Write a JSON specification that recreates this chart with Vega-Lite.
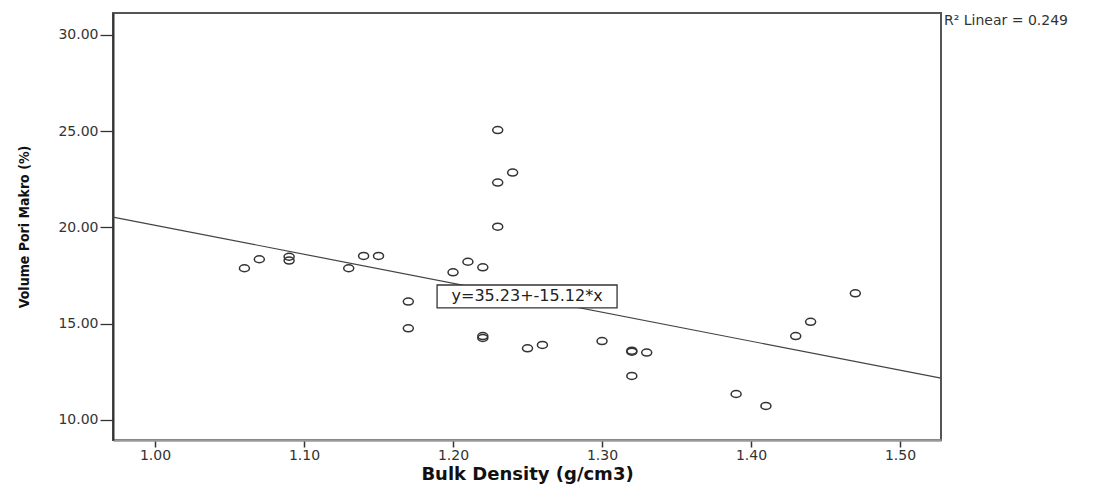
{
  "$schema": "https://vega.github.io/schema/vega-lite/v6.json",
  "autosize": "none",
  "width": 828,
  "height": 427,
  "padding": {"left": 113, "top": 13, "right": 156, "bottom": 47},
  "background": "white",
  "config": {
    "view": {"stroke": "#555", "strokeWidth": 2},
    "axis": {"grid": false}
  },
  "datasets": {
    "points": [
      {"bd": 1.06, "vp": 17.88},
      {"bd": 1.07, "vp": 18.35},
      {"bd": 1.09, "vp": 18.48},
      {"bd": 1.09, "vp": 18.28},
      {"bd": 1.13, "vp": 17.88},
      {"bd": 1.14, "vp": 18.52},
      {"bd": 1.15, "vp": 18.52},
      {"bd": 1.17, "vp": 16.15},
      {"bd": 1.17, "vp": 14.76},
      {"bd": 1.20, "vp": 17.67},
      {"bd": 1.21, "vp": 18.22},
      {"bd": 1.22, "vp": 17.93},
      {"bd": 1.22, "vp": 14.36},
      {"bd": 1.22, "vp": 14.26},
      {"bd": 1.23, "vp": 25.06},
      {"bd": 1.23, "vp": 22.33},
      {"bd": 1.23, "vp": 20.04},
      {"bd": 1.24, "vp": 22.85},
      {"bd": 1.25, "vp": 13.72},
      {"bd": 1.26, "vp": 13.9},
      {"bd": 1.30, "vp": 14.1},
      {"bd": 1.32, "vp": 13.6},
      {"bd": 1.32, "vp": 13.55},
      {"bd": 1.33, "vp": 13.5},
      {"bd": 1.32, "vp": 12.29},
      {"bd": 1.39, "vp": 11.35},
      {"bd": 1.41, "vp": 10.73},
      {"bd": 1.43, "vp": 14.36},
      {"bd": 1.44, "vp": 15.1},
      {"bd": 1.47, "vp": 16.58}
    ],
    "fit": [
      {"bd": 0.9718, "vp": 20.54},
      {"bd": 1.5275, "vp": 12.17}
    ],
    "label": [
      {"x1": 1.1893, "x2": 1.3101, "y1": 17.01, "y2": 15.82, "xc": 1.2497, "yc": 16.42, "text": "y=35.23+-15.12*x"}
    ],
    "r2": [
      {"bd": 1.5275, "vp": 31.14, "text": "R² Linear = 0.249"}
    ]
  },
  "encoding": {
    "x": {
      "field": "bd", "type": "quantitative",
      "scale": {"domain": [0.9718, 1.5275], "nice": false, "zero": false},
      "axis": {
        "values": [1.0, 1.1, 1.2, 1.3, 1.4, 1.5],
        "format": ".2f",
        "title": "Bulk Density (g/cm3)",
        "domainColor": "#999",
        "domainWidth": 2.5,
        "tickColor": "#333",
        "tickWidth": 1.5,
        "tickSize": 7,
        "labelFont": "DejaVu Sans",
        "labelFontSize": 14,
        "labelColor": "#333",
        "labelPadding": 1,
        "titleFont": "DejaVu Sans",
        "titleFontSize": 18,
        "titleFontWeight": "bold",
        "titleColor": "#111",
        "titlePadding": 3
      }
    },
    "y": {
      "field": "vp", "type": "quantitative",
      "scale": {"domain": [8.96, 31.14], "nice": false, "zero": false},
      "axis": {
        "values": [10, 15, 20, 25, 30],
        "format": ".2f",
        "title": "Volume Pori Makro (%)",
        "domainColor": "#333",
        "domainWidth": 2,
        "tickColor": "#333",
        "tickWidth": 1.3,
        "tickSize": 13,
        "labelFont": "DejaVu Sans",
        "labelFontSize": 14,
        "labelColor": "#333",
        "labelPadding": 2,
        "titleFont": "'Liberation Sans Narrow', 'DejaVu Sans Condensed', 'Liberation Sans', sans-serif",
        "titleFontSize": 14,
        "titleFontWeight": "bold",
        "titleColor": "#111",
        "titlePadding": 26
      }
    }
  },
  "layer": [
    {
      "data": {"name": "fit"},
      "mark": {"type": "line", "color": "#444", "strokeWidth": 1.2}
    },
    {
      "data": {"name": "points"},
      "mark": {
        "type": "point",
        "shape": "M-1,0A1,0.7,0,1,1,1,0A1,0.7,0,1,1,-1,0Z",
        "size": 100,
        "filled": false,
        "stroke": "#333",
        "strokeWidth": 1.5,
        "opacity": 1
      }
    },
    {
      "data": {"name": "label"},
      "mark": {"type": "rect", "fill": "white", "stroke": "#333", "strokeWidth": 1.3},
      "encoding": {
        "x": {"field": "x1", "type": "quantitative"},
        "x2": {"field": "x2"},
        "y": {"field": "y1", "type": "quantitative"},
        "y2": {"field": "y2"}
      }
    },
    {
      "data": {"name": "label"},
      "mark": {"type": "text", "font": "DejaVu Sans", "fontSize": 16, "color": "#222", "align": "center", "baseline": "middle"},
      "encoding": {
        "x": {"field": "xc", "type": "quantitative"},
        "y": {"field": "yc", "type": "quantitative"},
        "text": {"field": "text"}
      }
    },
    {
      "data": {"name": "r2"},
      "mark": {"type": "text", "font": "DejaVu Sans", "fontSize": 14, "color": "#333", "align": "left", "baseline": "top", "dx": 3, "dy": 1},
      "encoding": {
        "text": {"field": "text"}
      }
    }
  ]
}
